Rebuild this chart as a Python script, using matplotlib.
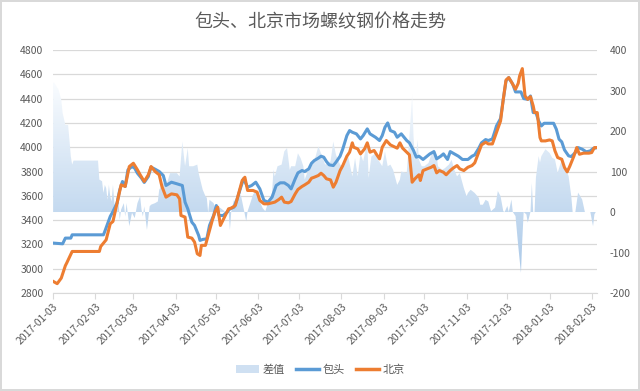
import matplotlib
matplotlib.use("Agg")
import matplotlib.pyplot as plt
import matplotlib.dates as mdates
import numpy as np
import pandas as pd
from matplotlib.colors import LinearSegmentedColormap
from matplotlib.patches import Patch
from matplotlib.lines import Line2D
from matplotlib.path import Path

plt.rcParams["font.family"] = ["Noto Sans CJK SC", "DejaVu Sans"]
plt.rcParams["axes.unicode_minus"] = False

title = "包头、北京市场螺纹钢价格走势"

# 包头 price (left axis)
bt_dates = [
    "2017-01-03", "2017-01-10", "2017-01-12", "2017-01-16", "2017-01-17", "2017-02-09", "2017-02-10",
    "2017-02-14", "2017-02-16", "2017-02-19", "2017-02-21", "2017-02-23", "2017-02-25", "2017-02-27",
    "2017-03-02", "2017-03-04", "2017-03-06", "2017-03-09", "2017-03-11", "2017-03-14", "2017-03-16",
    "2017-03-19", "2017-03-22", "2017-03-25", "2017-03-27", "2017-03-31", "2017-04-04", "2017-04-08",
    "2017-04-10", "2017-04-12", "2017-04-15", "2017-04-17", "2017-04-20", "2017-04-21", "2017-04-23",
    "2017-04-26", "2017-04-28", "2017-05-01", "2017-05-03", "2017-05-05", "2017-05-08", "2017-05-11",
    "2017-05-13", "2017-05-16", "2017-05-18", "2017-05-21", "2017-05-23", "2017-05-26", "2017-05-29",
    "2017-06-01", "2017-06-04", "2017-06-07", "2017-06-10", "2017-06-13", "2017-06-16", "2017-06-19",
    "2017-06-22", "2017-06-25", "2017-06-27", "2017-06-30", "2017-07-02", "2017-07-05", "2017-07-07",
    "2017-07-10", "2017-07-12", "2017-07-14", "2017-07-17", "2017-07-19", "2017-07-21", "2017-07-23",
    "2017-07-25", "2017-07-28", "2017-07-30", "2017-08-02", "2017-08-04", "2017-08-07", "2017-08-09",
    "2017-08-11", "2017-08-14", "2017-08-17", "2017-08-19", "2017-08-22", "2017-08-24", "2017-08-28",
    "2017-08-31", "2017-09-02", "2017-09-04", "2017-09-06", "2017-09-08", "2017-09-11", "2017-09-13",
    "2017-09-16", "2017-09-18", "2017-09-20", "2017-09-22", "2017-09-25", "2017-09-27", "2017-09-29",
    "2017-10-02", "2017-10-05", "2017-10-07", "2017-10-10", "2017-10-12", "2017-10-15", "2017-10-17",
    "2017-10-20", "2017-10-22", "2017-10-25", "2017-10-28", "2017-10-31", "2017-11-04", "2017-11-07",
    "2017-11-09", "2017-11-12", "2017-11-14", "2017-11-17", "2017-11-19", "2017-11-22", "2017-11-24",
    "2017-11-25", "2017-11-28", "2017-11-30", "2017-12-02", "2017-12-04", "2017-12-07", "2017-12-09",
    "2017-12-13", "2017-12-15", "2017-12-18", "2017-12-20", "2017-12-22", "2017-12-24", "2017-12-26",
    "2017-12-28", "2017-12-30", "2018-01-06", "2018-01-08", "2018-01-10", "2018-01-12", "2018-01-14",
    "2018-01-17", "2018-01-19", "2018-01-22", "2018-01-24", "2018-01-27", "2018-01-30", "2018-02-02",
    "2018-02-04", "2018-02-07",
]
bt_vals = [
    3211, 3205, 3252, 3252, 3279, 3279, 3307,
    3430, 3471, 3540, 3649, 3718, 3677, 3814,
    3841, 3827, 3786, 3745, 3710, 3759, 3836,
    3819, 3800, 3767, 3685, 3712, 3699, 3685,
    3548, 3493, 3383, 3356, 3274, 3233, 3241,
    3246, 3356, 3438, 3520, 3438, 3438, 3466,
    3493, 3507, 3562, 3671, 3740, 3671, 3685,
    3712, 3657, 3562, 3548, 3589, 3685, 3707,
    3707, 3685, 3657, 3740, 3789, 3808, 3800,
    3822, 3868, 3890, 3910, 3926, 3918, 3882,
    3855, 3849, 3877, 3926, 3986, 4096, 4137,
    4123, 4110, 4068, 4096, 4151, 4110, 4082,
    4055, 4096, 4164, 4200, 4137, 4123, 4082,
    4110, 4082, 4055, 4036, 3973, 3918, 3926,
    3899, 3926, 3945, 3964, 3904, 3926, 3945,
    3899, 3964, 3945, 3926, 3899, 3899, 3926,
    3937, 3992, 4036, 4063, 4055, 4068, 4137,
    4175, 4236, 4394, 4545, 4573, 4518, 4455,
    4455, 4400, 4394, 4422, 4285, 4285, 4216,
    4175, 4197, 4197, 4148, 4066, 4044, 3978,
    3929, 3923, 3956, 3997, 3984, 3962, 3970,
    3989, 3997,
]

# 北京 price (left axis)
bj_dates = [
    "2017-01-03", "2017-01-06", "2017-01-09", "2017-01-12", "2017-01-13", "2017-01-17", "2017-02-06",
    "2017-02-07", "2017-02-09", "2017-02-11", "2017-02-14", "2017-02-16", "2017-02-19", "2017-02-22",
    "2017-02-25", "2017-02-28", "2017-03-03", "2017-03-06", "2017-03-08", "2017-03-11", "2017-03-14",
    "2017-03-16", "2017-03-19", "2017-03-22", "2017-03-24", "2017-03-27", "2017-03-31", "2017-04-04",
    "2017-04-06", "2017-04-07", "2017-04-10", "2017-04-12", "2017-04-15", "2017-04-17", "2017-04-19",
    "2017-04-21", "2017-04-22", "2017-04-25", "2017-04-27", "2017-04-30", "2017-05-02", "2017-05-04",
    "2017-05-06", "2017-05-09", "2017-05-12", "2017-05-14", "2017-05-17", "2017-05-19", "2017-05-22",
    "2017-05-24", "2017-05-26", "2017-05-30", "2017-06-02", "2017-06-04", "2017-06-07", "2017-06-10",
    "2017-06-15", "2017-06-18", "2017-06-20", "2017-06-22", "2017-06-25", "2017-06-27", "2017-06-30",
    "2017-07-02", "2017-07-05", "2017-07-07", "2017-07-10", "2017-07-12", "2017-07-14", "2017-07-17",
    "2017-07-19", "2017-07-21", "2017-07-23", "2017-07-26", "2017-07-28", "2017-07-30", "2017-08-02",
    "2017-08-04", "2017-08-07", "2017-08-09", "2017-08-11", "2017-08-12", "2017-08-15", "2017-08-17",
    "2017-08-20", "2017-08-22", "2017-08-24", "2017-08-27", "2017-08-29", "2017-08-31", "2017-09-02",
    "2017-09-05", "2017-09-08", "2017-09-10", "2017-09-13", "2017-09-15", "2017-09-17", "2017-09-20",
    "2017-09-22", "2017-09-24", "2017-09-26", "2017-09-29", "2017-09-30", "2017-10-02", "2017-10-05",
    "2017-10-08", "2017-10-10", "2017-10-12", "2017-10-14", "2017-10-17", "2017-10-19", "2017-10-22",
    "2017-10-24", "2017-10-27", "2017-10-29", "2017-11-01", "2017-11-04", "2017-11-07", "2017-11-09",
    "2017-11-12", "2017-11-14", "2017-11-17", "2017-11-19", "2017-11-22", "2017-11-24", "2017-11-25",
    "2017-11-28", "2017-11-30", "2017-12-02", "2017-12-04", "2017-12-06", "2017-12-09", "2017-12-11",
    "2017-12-12", "2017-12-14", "2017-12-15", "2017-12-16", "2017-12-18", "2017-12-20", "2017-12-22",
    "2017-12-23", "2017-12-25", "2017-12-27", "2017-12-28", "2017-12-31", "2018-01-03", "2018-01-05",
    "2018-01-07", "2018-01-09", "2018-01-12", "2018-01-14", "2018-01-16", "2018-01-18", "2018-01-21",
    "2018-01-23", "2018-01-25", "2018-01-28", "2018-02-01", "2018-02-03", "2018-02-05", "2018-02-07",
]
bj_vals = [
    2896, 2877, 2923, 3025, 3047, 3142, 3142,
    3183, 3211, 3238, 3370, 3389, 3540, 3690,
    3677, 3841, 3868, 3814, 3773, 3718, 3773,
    3841, 3800, 3773, 3677, 3589, 3616, 3608,
    3575, 3438, 3425, 3260, 3252, 3219, 3123,
    3109, 3192, 3192, 3274, 3397, 3466, 3507,
    3356, 3425, 3493, 3499, 3520, 3603, 3726,
    3753, 3644, 3644, 3630, 3562, 3534, 3534,
    3548, 3570, 3589, 3548, 3542, 3553, 3616,
    3652, 3677, 3690, 3712, 3745, 3753, 3767,
    3786, 3767, 3740, 3731, 3671, 3712, 3808,
    3849, 3926, 3959, 4036, 4000, 3986, 3945,
    3986, 4036, 3959, 3973, 3937, 3904, 4000,
    4055, 4019, 4008, 3992, 4036, 3992, 3959,
    3937, 3712, 3740, 3773, 3726, 3808, 3822,
    3835, 3849, 3789, 3808, 3794, 3773, 3808,
    3827, 3849, 3822, 3808, 3835, 3849, 3871,
    3959, 4019, 4041, 4027, 4027, 4090, 4121,
    4216, 4394, 4553, 4573, 4537, 4477, 4526,
    4586, 4647, 4531, 4422, 4394, 4416, 4340,
    4285, 4285, 4079, 4052, 4052, 4060, 4052,
    3970, 3915, 3901, 3833, 3797, 3846, 3929,
    3997, 3942, 3951, 3951, 3956, 3997, 3997,
]

# 差值 (right axis)
diff_dates = [
    "2017-01-03", "2017-01-04", "2017-01-07", "2017-01-09", "2017-01-10", "2017-01-12", "2017-01-14",
    "2017-01-15", "2017-01-16", "2017-01-17", "2017-01-18", "2017-02-05", "2017-02-06", "2017-02-08",
    "2017-02-09", "2017-02-10", "2017-02-11", "2017-02-12", "2017-02-13", "2017-02-14", "2017-02-15",
    "2017-02-16", "2017-02-17", "2017-02-19", "2017-02-20", "2017-02-21", "2017-02-22", "2017-02-24",
    "2017-02-25", "2017-02-26", "2017-02-28", "2017-03-02", "2017-03-04", "2017-03-06", "2017-03-08",
    "2017-03-09", "2017-03-10", "2017-03-11", "2017-03-13", "2017-03-15", "2017-03-16", "2017-03-19",
    "2017-03-21", "2017-03-22", "2017-03-25", "2017-03-27", "2017-03-30", "2017-04-04", "2017-04-06",
    "2017-04-08", "2017-04-10", "2017-04-12", "2017-04-13", "2017-04-16", "2017-04-19", "2017-04-20",
    "2017-04-23", "2017-04-25", "2017-04-26", "2017-04-27", "2017-04-28", "2017-05-01", "2017-05-02",
    "2017-05-03", "2017-05-06", "2017-05-09", "2017-05-10", "2017-05-12", "2017-05-13", "2017-05-14",
    "2017-05-16", "2017-05-18", "2017-05-21", "2017-05-23", "2017-05-25", "2017-05-26", "2017-05-28",
    "2017-05-30", "2017-06-02", "2017-06-04", "2017-06-06", "2017-06-08", "2017-06-10", "2017-06-13",
    "2017-06-14", "2017-06-15", "2017-06-17", "2017-06-20", "2017-06-22", "2017-06-24", "2017-06-26",
    "2017-06-27", "2017-06-30", "2017-07-02", "2017-07-04", "2017-07-06", "2017-07-07", "2017-07-10",
    "2017-07-12", "2017-07-15", "2017-07-17", "2017-07-19", "2017-07-22", "2017-07-26", "2017-07-28",
    "2017-07-30", "2017-08-02", "2017-08-05", "2017-08-08", "2017-08-11", "2017-08-13", "2017-08-15",
    "2017-08-17", "2017-08-19", "2017-08-22", "2017-08-23", "2017-08-25", "2017-08-28", "2017-08-30",
    "2017-09-02", "2017-09-04", "2017-09-06", "2017-09-08", "2017-09-10", "2017-09-13", "2017-09-15",
    "2017-09-16", "2017-09-20", "2017-09-22", "2017-09-24", "2017-09-25", "2017-09-26", "2017-09-27",
    "2017-09-28", "2017-09-29", "2017-10-01", "2017-10-03", "2017-10-06", "2017-10-08", "2017-10-10",
    "2017-10-12", "2017-10-13", "2017-10-16", "2017-10-18", "2017-10-21", "2017-10-23", "2017-10-25",
    "2017-10-27", "2017-10-29", "2017-11-01", "2017-11-03", "2017-11-04", "2017-11-06", "2017-11-09",
    "2017-11-12", "2017-11-13", "2017-11-15", "2017-11-17", "2017-11-19", "2017-11-21", "2017-11-24",
    "2017-11-26", "2017-11-28", "2017-11-30", "2017-12-01", "2017-12-03", "2017-12-04", "2017-12-06",
    "2017-12-07", "2017-12-09", "2017-12-11", "2017-12-13", "2017-12-14", "2017-12-15", "2017-12-17",
    "2017-12-18", "2017-12-20", "2017-12-21", "2017-12-22", "2017-12-23", "2017-12-24", "2017-12-26",
    "2017-12-27", "2017-12-28", "2017-12-31", "2018-01-03", "2018-01-05", "2018-01-07", "2018-01-09",
    "2018-01-12", "2018-01-14", "2018-01-17", "2018-01-19", "2018-01-20", "2018-01-22", "2018-01-24",
    "2018-01-27", "2018-01-29", "2018-02-02", "2018-02-04", "2018-02-05", "2018-02-06",
]
diff_vals = [
    320, 318, 302, 277, 244, 215, 215,
    178, 137, 117, 127, 127, 80, 76,
    47, 67, 59, 30, 67, 39, 26,
    67, 22, -2, 30, -19, 6, 22,
    -11, 22, -35, -2, -15, 22, 39,
    6, -11, 14, -44, 14, 18, 22,
    26, 55, 72, 63, 96, 96, 88,
    174, 113, 158, 113, 113, 117, 96,
    55, 39, 35, -2, 30, 22, 10,
    14, 10, 2, -11, 6, -44, 2,
    30, 22, 43, 10, -23, 2, 22,
    43, 55, 26, 10, 2, 22, 47,
    104, 88, 113, 117, 150, 158, 104,
    113, 113, 145, 133, 113, 80, 108,
    113, 137, 162, 145, 117, 125, 174,
    141, 117, 113, 137, 88, 133, 88,
    145, 125, 174, 84, 137, 145, 129,
    113, 150, 113, 117, 104, 67, 80,
    100, 96, 187, 289, 187, 129, 145,
    178, 129, 113, 113, 121, 141, 154,
    141, 113, 104, 108, 117, 129, 104,
    88, 96, 59, 39, 47, 55, 47,
    35, 18, 18, 30, 26, 2, 11,
    52, 39, 2, 0, 15, 0, 31,
    0, -10, -84, -150, -67, 0, -6,
    -26, 0, 72, 0, 0, 85, 138,
    122, 138, 155, 146, 134, 130, 97,
    130, 113, 89, 39, 0, 0, 48,
    31, 0, 0, -35, -6, 0,
]

left_ticks = list(range(2800, 4801, 200))
right_ticks = list(range(-200, 401, 100))

blue = "#5B9BD5"
orange = "#ED7D31"
grey = "#595959"
grid = "#D9D9D9"

bt_x = mdates.date2num(pd.to_datetime(bt_dates))
bj_x = mdates.date2num(pd.to_datetime(bj_dates))
df_x = mdates.date2num(pd.to_datetime(diff_dates))
x0 = mdates.date2num(pd.Timestamp("2017-01-03"))
x1 = mdates.date2num(pd.Timestamp("2018-02-07"))

fig = plt.figure(figsize=(6.4, 3.91), dpi=100)
fig.patch.set_edgecolor(grid)
fig.patch.set_linewidth(1.5)

pos = [0.083, 0.2506, 0.85, 0.6215]
ax1 = fig.add_axes(pos)
ax2 = ax1.twinx()
ax3 = fig.add_axes(pos, sharex=ax1, sharey=ax1)
ax1.set_zorder(0)
ax2.set_zorder(1)
ax3.set_zorder(2)
ax2.patch.set_visible(False)
ax3.axis("off")

# gradient area for 差值
poly = ax2.fill_between(df_x, diff_vals, 0, facecolor="none", edgecolor="none")
clip = Path.make_compound_path(*poly.get_paths())
cmap = LinearSegmentedColormap.from_list("area", ["#FBFDFF", "#A9C8E8"])
grad = np.linspace(0, 1, 256).reshape(-1, 1)
img = ax2.imshow(grad, cmap=cmap, aspect="auto", origin="upper",
                 extent=[df_x[0], df_x[-1], -160, 330], zorder=1)
img.set_clip_path(clip, transform=ax2.transData)

ax3.plot(bt_x, bt_vals, color=blue, lw=2.2, solid_joinstyle="round")
ax3.plot(bj_x, bj_vals, color=orange, lw=2.2, solid_joinstyle="round")

ax1.set_ylim(2800, 4800)
ax1.set_yticks(left_ticks)
ax2.set_ylim(-200, 400)
ax2.set_yticks(right_ticks)
ax1.set_xlim(x0, x1)

ax1.grid(axis="y", color=grid, lw=0.9)
ax1.set_axisbelow(True)
for s in ["top", "left", "right"]:
    ax1.spines[s].set_visible(False)
ax1.spines["bottom"].set_color(grid)
for s in ax2.spines.values():
    s.set_visible(False)

ax1.xaxis.set_major_locator(mdates.MonthLocator(bymonthday=3))
ax1.xaxis.set_major_formatter(mdates.DateFormatter("%Y-%m-%d"))
ax1.tick_params(axis="x", length=4, color=grid, labelcolor=grey, labelsize=7.5, pad=2)
ax1.tick_params(axis="y", length=0, labelcolor=grey, labelsize=7.5, pad=7)
ax2.tick_params(axis="y", length=0, labelcolor=grey, labelsize=7.5, pad=9)
for lab in ax1.get_xticklabels():
    lab.set_rotation(45)
    lab.set_ha("right")
    lab.set_rotation_mode("anchor")

fig.text(0.5, 0.944, title, ha="center", va="center", fontsize=13, color=grey)

handles = [Patch(facecolor="#CFE0F2", edgecolor="none"),
           Line2D([], [], color=blue, lw=2.5),
           Line2D([], [], color=orange, lw=2.5)]
leg = fig.legend(handles, ["差值", "包头", "北京"], loc="center", bbox_to_anchor=(0.5, 0.054),
                 ncol=3, frameon=False, fontsize=8, handlelength=2.1, handletextpad=0.3,
                 columnspacing=1.0)
for t in leg.get_texts():
    t.set_color(grey)

fig.savefig("out.png", dpi=100, edgecolor=fig.get_edgecolor())
